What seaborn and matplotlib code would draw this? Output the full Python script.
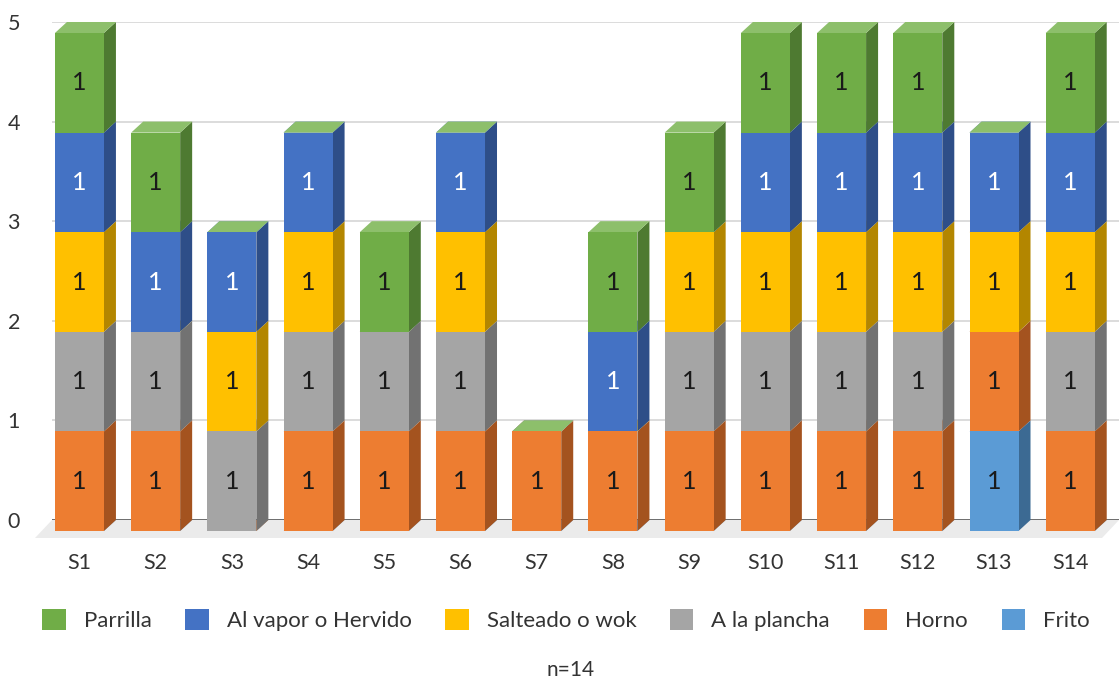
import numpy as np
import pandas as pd
import seaborn as sns
import matplotlib
matplotlib.use("Agg")
import matplotlib.pyplot as plt
from matplotlib.patches import Polygon, Patch
from matplotlib.transforms import Affine2D

# ---------------- data ----------------
categories = ["S1", "S2", "S3", "S4", "S5", "S6", "S7", "S8", "S9", "S10", "S11", "S12", "S13", "S14"]
frito    = [0, 0, 0, 0, 0, 0, 0, 0, 0, 0, 0, 0, 1, 0]
horno    = [1, 1, 0, 1, 1, 1, 1, 1, 1, 1, 1, 1, 1, 1]
plancha  = [1, 1, 1, 1, 1, 1, 0, 0, 1, 1, 1, 1, 0, 1]
salteado = [1, 0, 1, 1, 0, 1, 0, 0, 1, 1, 1, 1, 1, 1]
vapor    = [1, 1, 1, 1, 0, 1, 0, 1, 0, 1, 1, 1, 1, 1]
parrilla = [1, 1, 0, 0, 1, 0, 0, 1, 1, 1, 1, 1, 0, 1]
series_names = ["Frito", "Horno", "A la plancha", "Salteado o wok", "Al vapor o Hervido", "Parrilla"]
y_ticks = [0, 1, 2, 3, 4, 5]
note = "n=14"

# ---------------- style ----------------
# (front, side, top, label colour)
styles = {
    "Frito":              ("#5B9BD5", "#3C6A93", "#7DB0DE", "#1A1A1A"),
    "Horno":              ("#ED7D31", "#A4531F", "#F19A5E", "#1A1A1A"),
    "A la plancha":       ("#A5A5A5", "#727272", "#BDBDBD", "#1A1A1A"),
    "Salteado o wok":     ("#FFC000", "#B38600", "#FFCF40", "#1A1A1A"),
    "Al vapor o Hervido": ("#4472C4", "#2E4E88", "#6A8FD0", "#FFFFFF"),
    "Parrilla":           ("#70AD47", "#4E7A31", "#8DBF6B", "#1A1A1A"),
}

sns.set_theme(style="white")
plt.rcParams["font.family"] = ["Lato", "DejaVu Sans"]

W, H = 1119, 682
fig = plt.figure(figsize=(W / 100, H / 100), dpi=100)
ax_l, ax_b, ax_w, ax_h = 52, 162, 1067, 498
ax = fig.add_axes([ax_l / W, ax_b / H, ax_w / W, ax_h / H])

n = len(categories)
ppx = ax_w / n          # pixels per category
ppy = ax_h / 5.0        # pixels per unit
bar_w = 49 / ppx
depth_x = 12 / ppx
depth_y = 11 / ppy
front_dx = -0.14
front_dy = -depth_y

values = [frito, horno, plancha, salteado, vapor, parrilla]
vals = np.array(values, dtype=float)
cum = np.cumsum(vals, axis=0)
bottoms = cum - vals

# floor
fl_dx = 17 / ppx
fl_dy = 18 / ppy
floor = Polygon([(-0.5, 0), (n - 0.5, 0), (n - 0.5 - fl_dx, -fl_dy), (-0.5 - fl_dx, -fl_dy)],
                closed=True, facecolor="#EBEBEB", edgecolor="none", zorder=0.5, clip_on=False)
ax.add_patch(floor)

# side and top faces (3D effect), drawn in stacking order
for k, name in enumerate(series_names):
    front, side, top, _ = styles[name]
    for i in range(n):
        b = bottoms[k, i]
        t = cum[k, i]
        x0 = i + front_dx - bar_w / 2
        x1 = i + front_dx + bar_w / 2
        if t > b:
            ax.add_patch(Polygon([(x1, b + front_dy), (x1, t + front_dy),
                                  (x1 + depth_x, t + front_dy + depth_y),
                                  (x1 + depth_x, b + front_dy + depth_y)],
                                 closed=True, facecolor=side, edgecolor="none",
                                 zorder=2, clip_on=False))
        ax.add_patch(Polygon([(x0, t + front_dy), (x1, t + front_dy),
                              (x1 + depth_x, t + front_dy + depth_y),
                              (x0 + depth_x, t + front_dy + depth_y)],
                             closed=True, facecolor=top, edgecolor="none",
                             zorder=2, clip_on=False))

# front faces with seaborn (cumulative, top series first)
shift = Affine2D().translate(front_dx, front_dy)
for k in range(len(series_names) - 1, -1, -1):
    name = series_names[k]
    df = pd.DataFrame({"cat": categories, "val": cum[k]})
    before = len(ax.patches)
    sns.barplot(data=df, x="cat", y="val", color=styles[name][0], saturation=1,
                width=bar_w, errorbar=None, linewidth=0, ax=ax, zorder=3)
    for p in ax.patches[before:]:
        p.set_transform(shift + ax.transData)
        p.set_clip_on(False)

# data labels
for k, name in enumerate(series_names):
    lc = styles[name][3]
    for i in range(n):
        v = vals[k, i]
        if v > 0:
            ax.text(i + front_dx, bottoms[k, i] + v / 2 + front_dy, f"{int(v)}",
                    ha="center", va="center", fontsize=18, color=lc, zorder=5)

# axes styling
ax.set_xlim(-0.5, n - 0.5)
ax.set_ylim(0, 5)
ax.set_yticks(y_ticks)
ax.set_xticks(np.arange(n) + front_dx)
ax.set_xticklabels(categories)
ax.set_xlabel("")
ax.set_ylabel("")
for s in ax.spines.values():
    s.set_visible(False)
ax.grid(axis="y", color="#D9D9D9", linewidth=1.3, zorder=0)
ax.grid(axis="x", visible=False)
ax.set_axisbelow(True)
ax.axhline(0, color="#6E6E6E", linewidth=1.4, zorder=1)
ax.tick_params(axis="y", length=0, pad=23, labelsize=15.5, labelcolor="#333333")
ax.tick_params(axis="x", length=0, pad=24, labelsize=15.5, labelcolor="#333333")

# legend
legend_order = list(reversed(series_names))
handles = [Patch(facecolor=styles[nm][0], edgecolor="none", label=nm) for nm in legend_order]
fig.legend(handles=handles, loc="center", bbox_to_anchor=(566 / W, 1 - 620 / H), ncol=6,
           frameon=False, fontsize=16, handlelength=1.04, handleheight=1.04,
           handletextpad=0.81, columnspacing=1.53, labelcolor="#333333")

fig.text(571 / W, 1 - 670 / H, note, ha="center", va="center", fontsize=15, color="#333333")

fig.savefig("out.png", dpi=100)
